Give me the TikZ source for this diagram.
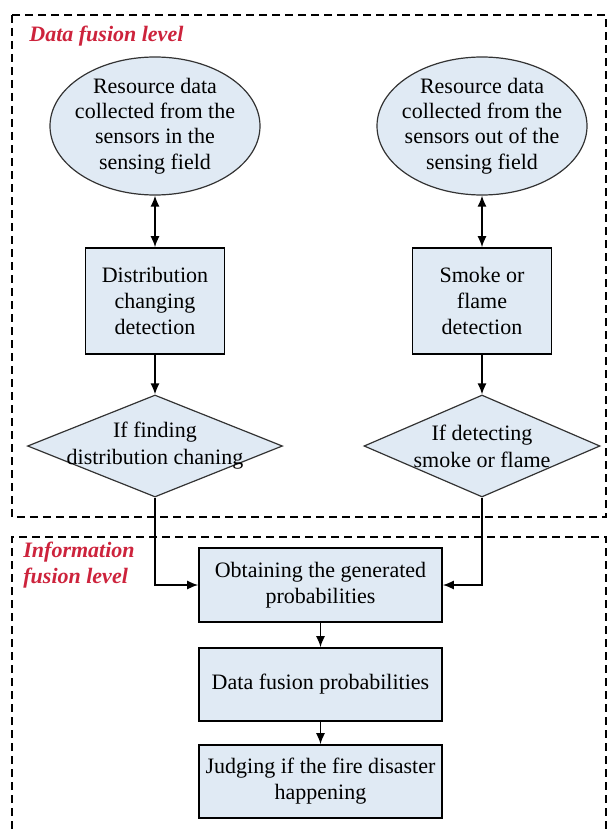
\documentclass[tikz,border=0pt]{standalone}
\usepackage{fontspec}
\setmainfont{Liberation Serif}
\usepackage{tikz}
\usetikzlibrary{arrows.meta,shapes.geometric,positioning}
\definecolor{boxfill}{RGB}{224,234,244}
\definecolor{lvlred}{RGB}{205,35,60}
\tikzset{
  srcell/.style={ draw=black!80, ellipse, fill=boxfill, line width=0.6pt, align=center,
    inner xsep=-4pt, inner ysep=0pt, minimum width=105pt, minimum height=69pt,
    font=\fontsize{11}{12.6}\selectfont }
}
\tikzset{
  stepbox/.style={ draw, fill=boxfill, line width=0.8pt, align=center, inner sep=1pt,
    font=\fontsize{11}{13}\selectfont }
}
\tikzset{
  decdia/.style={ draw=black!80, diamond, fill=boxfill, line width=0.6pt, inner sep=0pt,
    minimum height=51pt }
}
\tikzset{
  dectext/.style={ align=center, font=\fontsize{11}{13.5}\selectfont }
}
\tikzset{
  lvlframe/.style={ draw, line width=0.6pt, dash pattern=on 4pt off 2.5pt }
}
\tikzset{
  lvltext/.style={ text=lvlred, inner sep=0pt, align=left,
    font=\fontsize{11}{13}\selectfont\bfseries\itshape }
}
\tikzset{
  flow/.style={ line width=0.75pt, -{Latex[length=5.5pt,width=4.5pt]} }
}
\tikzset{
  flowboth/.style={ line width=0.75pt, {Latex[length=5.5pt,width=4.5pt]}-{Latex[length=5.5pt,width=4.5pt]} }
}

\begin{document}
\begin{tikzpicture}[y=-0.5pt, x=0.5pt]
      \useasboundingbox (0, 0) rectangle (608, 829);
      % data fusion level
      \draw[lvlframe] (12, 15) rectangle (606, 517);
      \node[lvltext, anchor=west] (dataLvl) at (29, 36) {Data fusion level};

      \node[srcell] (srcIn) at (155, 126) {Resource data\\collected from the\\sensors in the\\sensing field};
      \node[srcell] (srcOut) at (482, 126) {Resource data\\collected from the\\sensors out of the\\sensing field};

      \node[stepbox, minimum width=69.5pt, minimum height=53pt] (detIn) at (155, 301) {Distribution\\changing\\detection};
      \node[stepbox, minimum width=69.5pt, minimum height=53pt] (detOut) at (482, 301) {Smoke or\\flame\\detection};

      \node[decdia, minimum width=127.5pt, label={[dectext]center:If finding\\distribution chaning}] (decIn) at (155, 446) {};
      \node[decdia, minimum width=118pt, label={[dectext]center:If detecting\\smoke or flame}] (decOut) at (482, 446) {};

      \draw[flowboth] (srcIn) -- (detIn);
      \draw[flowboth] (srcOut) -- (detOut);
      \draw[flow] (detIn) -- (decIn);
      \draw[flow] (detOut) -- (decOut);

      % information fusion level
      \draw[lvlframe] (12, 829) |- (606, 537) -- (606, 829);
      \node[lvltext, anchor=west] (infoLvl) at (23, 565) {Information\\fusion level};

      \node[stepbox, minimum width=121.5pt, minimum height=37pt] (prob) at (320.5, 585) {Obtaining the generated\\probabilities};
      \node[stepbox, minimum width=121.5pt, minimum height=36.5pt] (fuse) at (320.5, 684.5) {Data fusion probabilities};
      \node[stepbox, minimum width=121.5pt, minimum height=36.5pt] (judge) at (320.5, 781.5) {Judging if the fire disaster\\happening};

      \draw[flow] (decIn.south) |- (prob.west);
      \draw[flow] (decOut.south) |- (prob.east);
      \draw[flow] (prob) -- (fuse);
      \draw[flow] (fuse) -- (judge);
    \end{tikzpicture}
\end{document}
